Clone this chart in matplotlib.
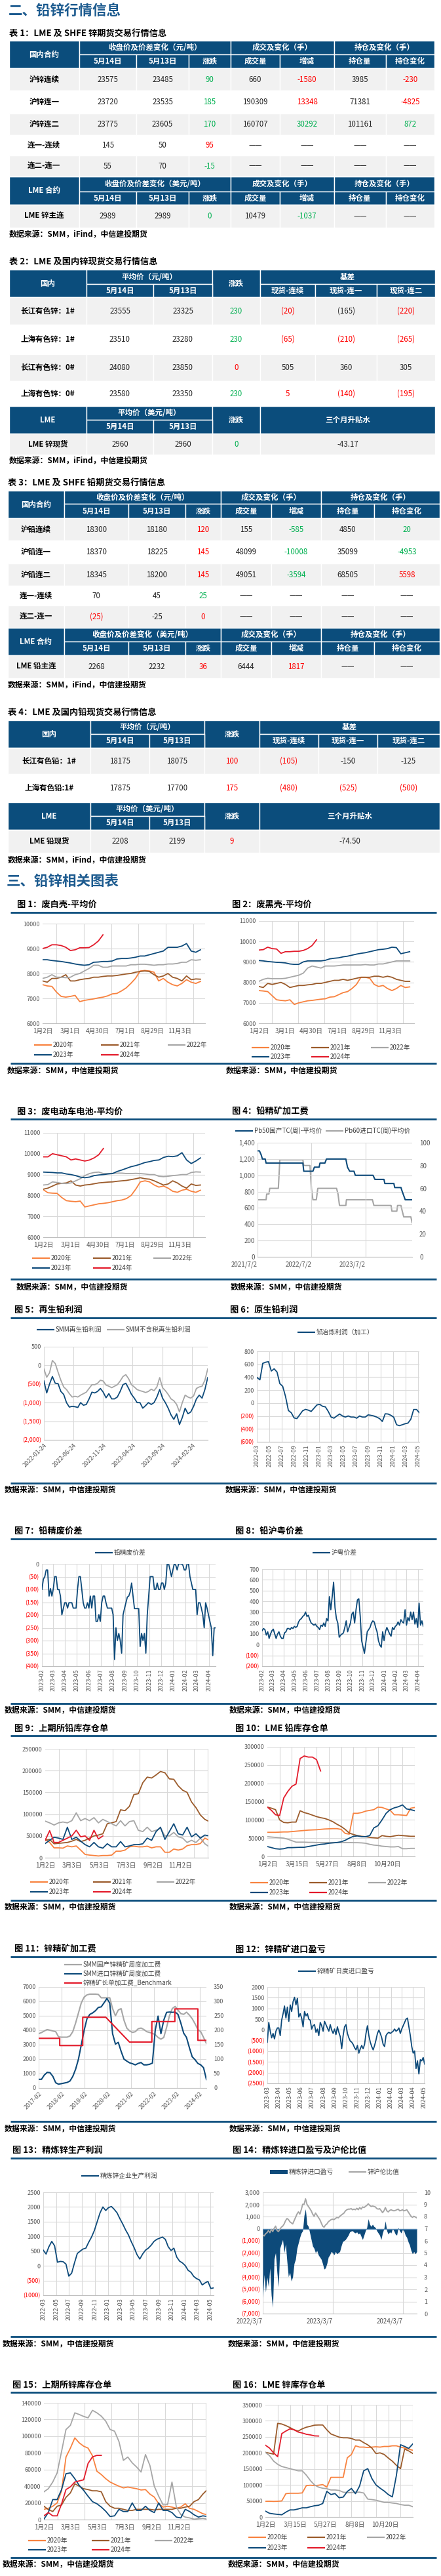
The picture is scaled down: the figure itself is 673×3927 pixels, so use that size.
import numpy as np
import pandas as pd
import matplotlib
matplotlib.use('Agg')
from matplotlib import pyplot as plt
from matplotlib.patches import Rectangle

plt.rcParams['font.family'] = ['Noto Sans CJK SC', 'DejaVu Sans']
plt.rcParams['axes.unicode_minus'] = False

W, H = 673, 3927

NAVY = '#0B4D7C'
BLUE = '#0D4A7A'
ORANGE = '#F8823F'
BROWN = '#9B5B2B'
GREY = '#A6A6A6'
RED = '#E31B2B'
TXT_G = '#00B050'
TXT_R = '#FF0000'
ROW_GREY = '#F1F1F1'
GRID = '#D9D9D9'
TICK = '#595959'
HEAD_BLUE = '#1D5B8F'
SEASON = [ORANGE, BROWN, GREY, BLUE, RED]
YEARS = ['2020年', '2021年', '2022年', '2023年', '2024年']

# ---------------- tables ----------------
fut_sub = ['5月14日', '5月13日', '涨跌', '成交量', '增减', '持仓量', '持仓变化']

t1_labels = ['沪锌连续', '沪锌连一', '沪锌连二', '连一-连续', '连二-连一']
t1_vals = [['23575', '23485', '90', '660', '-1580', '3985', '-230'],
           ['23720', '23535', '185', '190309', '13348', '71381', '-4825'],
           ['23775', '23605', '170', '160707', '30292', '101161', '872'],
           ['145', '50', '95', '——', '——', '——', '——'],
           ['55', '70', '-15', '——', '——', '——', '——']]
t1_tone = ['kkgkrkr', 'kkgkrkr', 'kkgkgkg', 'kkrkkkk', 'kkgkkkk']
t1_lme = ['2989', '2989', '0', '10479', '-1037', '——', '——']
t1_lme_tone = 'kkgkgkk'

t2_labels = ['长江有色锌：1#', '上海有色锌：1#', '长江有色锌：0#', '上海有色锌：0#']
t2_vals = [['23555', '23325', '230', '(20)', '(165)', '(220)'],
           ['23510', '23280', '230', '(65)', '(210)', '(265)'],
           ['24080', '23850', '0', '505', '360', '305'],
           ['23580', '23350', '230', '5', '(140)', '(195)']]
t2_tone = ['kkgrkr', 'kkgrrr', 'kkrkkk', 'kkgrrr']
t2_lme = ['2960', '2960', '0', '-43.17']
t2_lme_tone = 'kkgk'

t3_labels = ['沪铅连续', '沪铅连一', '沪铅连二', '连一-连续', '连二-连一']
t3_vals = [['18300', '18180', '120', '155', '-585', '4850', '20'],
           ['18370', '18225', '145', '48099', '-10008', '35099', '-4953'],
           ['18345', '18200', '145', '49051', '-3594', '68505', '5598'],
           ['70', '45', '25', '——', '——', '——', '——'],
           ['(25)', '-25', '0', '——', '——', '——', '——']]
t3_tone = ['kkrkgkg', 'kkrkgkg', 'kkrkgkr', 'kkgkkkk', 'rkrkkkk']
t3_lme = ['2268', '2232', '36', '6444', '1817', '——', '——']
t3_lme_tone = 'kkrkrkk'

t4_labels = ['长江有色铅：1#', '上海有色铅:1#']
t4_vals = [['18175', '18075', '100', '(105)', '-150', '-125'],
           ['17875', '17700', '175', '(480)', '(525)', '(500)']]
t4_tone = ['kkrrkk', 'kkrrrr']
t4_lme = ['2208', '2199', '9', '-74.50']
t4_lme_tone = 'kkrk'

# ---------------- seasonal charts (every 10 days from 1月2日) ----------------
f1_2020 = [7550, 7500, 7480, 7250, 7080, 7050, 7080, 7120, 6870, 6920, 6950, 6980, 7020, 7050, 7100, 7180, 7200, 7300,
           7420, 7600, 7800, 8100, 8120, 8100, 8050, 7700, 7800, 7650, 7550, 7500, 7600, 7750, 7650, 7600, 7680]
f1_2021 = [7700, 7650, 7800, 7800, 7850, 7950, 7700, 7700, 7750, 7780, 7800, 7850, 7850, 7880, 7900, 7900, 7920, 7950,
           7980, 8000, 8050, 8080, 8100, 8080, 7950, 7850, 7900, 8000, 7850, 7800, 7700, 7900, 7750, 7780, 7770]
f1_2022 = [7800, 7850, 7950, 7850, 7850, 7830, 7850, 7950, 8000, 8100, 8200, 8330, 8330, 8250, 8250, 8300, 8300, 8300,
           8300, 8350, 8350, 8370, 8370, 8350, 8330, 8350, 8350, 8380, 8380, 8400, 8450, 8450, 8550, 8530, 8550]
f1_2023 = [8550, 8550, 8520, 8500, 8480, 8450, 8420, 8380, 8350, 8330, 8350, 8450, 8460, 8480, 8480, 8500, 8580, 8600,
           8600, 8620, 8650, 8700, 8700, 8750, 8800, 8850, 8900, 9050, 9050, 9050, 9100, 9200, 8900, 8850, 8950]
f1_2024 = [9000, 9050, 9150, 9150, 9120, 9050, 8920, 8950, 9030, 9030, 9040, 9150, 9300, 9550]

f2_2020 = [7600, 7580, 7550, 7350, 7150, 7120, 7100, 7150, 6920, 7000, 7050, 7100, 7120, 7150, 7180, 7200, 7280, 7300,
           7400, 7500, 7550, 7700, 7900, 8250, 8250, 8200, 7900, 7800, 7850, 7700, 7600, 7700, 7850, 7750, 7780]
f2_2021 = [7800, 7750, 7950, 7900, 7950, 8000, 7900, 7750, 7800, 7850, 7850, 7880, 7900, 7950, 7950, 8000, 8050, 8100,
           8100, 8150, 8100, 8150, 8200, 8250, 8250, 8250, 8300, 8300, 8250, 8300, 8250, 8150, 8100, 8050, 8050]
f2_2022 = [8050, 8150, 8200, 8180, 8180, 8180, 8200, 8250, 8300, 8350, 8450, 8700, 8800, 8750, 8700, 8800, 8800, 8800,
           8820, 8850, 8850, 8850, 8850, 8850, 8870, 8850, 8850, 8900, 8900, 8950, 9000, 9050, 9050, 9050, 9050]
f2_2023 = [9070, 9050, 9020, 9000, 8980, 8970, 8950, 8900, 8880, 8880, 9000, 9050, 9050, 9050, 9050, 9080, 9150, 9180,
           9200, 9250, 9280, 9330, 9380, 9420, 9450, 9500, 9550, 9600, 9620, 9650, 9720, 9700, 9400, 9450, 9500]
f2_2024 = [9580, 9600, 9720, 9650, 9630, 9420, 9500, 9500, 9520, 9520, 9560, 9650, 9800, 10080]

f3_2020 = [8280, 8130, 8110, 8100, 7900, 7750, 7720, 7700, 7730, 7450, 7500, 7550, 7600, 7620, 7650, 7700, 7750, 7780,
           7850, 8000, 8300, 8650, 8700, 8650, 8500, 8400, 8450, 8350, 8200, 8150, 8250, 8300, 8200, 8150, 8250]
f3_2021 = [8300, 8350, 8450, 8550, 8580, 8600, 8700, 8500, 8450, 8500, 8520, 8560, 8600, 8620, 8640, 8650, 8680, 8700,
           8720, 8760, 8800, 8850, 8800, 8780, 8700, 8600, 8500, 8550, 8700, 8600, 8450, 8350, 8550, 8480, 8500]
f3_2022 = [8500, 8520, 8650, 8620, 8580, 8570, 8600, 8700, 8800, 8950, 9050, 9100, 9120, 9050, 9050, 9060, 9070, 9070,
           9050, 9050, 9060, 9050, 9030, 9000, 9000, 8920, 8900, 8920, 8950, 8970, 9000, 9000, 9100, 9130, 9120]
f3_2023 = [9120, 9110, 9100, 9080, 9080, 9030, 9000, 8950, 8880, 8850, 8880, 8950, 8980, 9000, 9030, 9050, 9150, 9220,
           9300, 9380, 9430, 9500, 9580, 9620, 9680, 9700, 9820, 9880, 9860, 9900, 10050, 9700, 9530, 9650, 9800]
f3_2024 = [9850, 9850, 10000, 9950, 9900, 9850, 9700, 9750, 9700, 9650, 9700, 9800, 9950, 10250]

f9_2020 = [43000, 35000, 22600, 22600, 22000, 27000, 25000, 27000, 17500, 7500, 6000, 5000, 4000, 5000, 5000, 6000,
           15000, 15000, 17500, 25000, 26500, 25000, 25000, 26500, 22600, 25000, 25000, 12500, 12500, 20000, 17500,
           20000, 27600, 30000, 30000, 32600, 45000, 40000]
f9_2021 = [40000, 42000, 32000, 33000, 34000, 35000, 38000, 42000, 37000, 40000, 45000, 50000, 52000, 55000, 78000,
           80000, 83000, 110000, 108000, 118000, 145000, 147000, 172000, 185000, 183000, 190000, 198000, 195000,
           181000, 180000, 165000, 155000, 150000, 128000, 115000, 98000, 88000, 83000]
f9_2022 = [84000, 80000, 75000, 80000, 82000, 80000, 85000, 103000, 85000, 90000, 85000, 92000, 80000, 88000, 83000,
           78000, 73000, 85000, 73000, 83000, 85000, 63000, 60000, 70000, 60000, 63000, 68000, 50000, 50000, 58000,
           48000, 45000, 35000, 40000, 35000, 45000, 32000, 25000]
f9_2023 = [32600, 40000, 47000, 45000, 42000, 70000, 42000, 47000, 38000, 30000, 25000, 35000, 25000, 22000, 32000,
           25000, 25000, 37000, 25000, 27000, 30000, 30000, 32000, 45000, 40000, 60000, 70000, 42000, 60000, 78000,
           55000, 52000, 70000, 48000, 55000, 45000, 52000, 50000]
f9_2024 = [40000, 62000, 35000, 35000, 40000, 45000, 50000, 63000, 48000, 50000, 40000, 63000, 43000, 50000]

f10_2020 = [66000, 66000, 66000, 66500, 67000, 67000, 68000, 69000, 70000, 71000, 72000, 72500, 73000, 74000, 75000,
            75500, 76000, 76000, 74000, 63000, 61000, 118000, 118000, 120000, 124000, 126000, 128000, 135000, 134000,
            130000, 126000, 114000, 114000, 113000, 112000, 132000, 134000]
f10_2021 = [135000, 132000, 128000, 100000, 93000, 92000, 94000, 94000, 125000, 120000, 117000, 113000, 109000,
            106000, 104000, 100000, 95000, 88000, 82000, 74000, 64000, 60000, 57000, 55000, 54000, 52000, 51000,
            50000, 57000, 55000, 54000, 56000, 58000, 57000, 56000, 55000, 55000]
f10_2022 = [54000, 53000, 52000, 51000, 50000, 47000, 43000, 39000, 39000, 39000, 38500, 38500, 38000, 38000, 38000,
            38000, 38000, 38000, 38000, 38000, 38000, 37500, 37500, 37000, 36000, 33000, 31000, 30000, 28000, 27000,
            26000, 26000, 27000, 21000, 21000, 22000, 22000]
f10_2023 = [27000, 24000, 21000, 20000, 21000, 24000, 24000, 24500, 25000, 25000, 27000, 29000, 31000, 33000, 34000,
            36000, 37000, 38000, 40000, 44000, 50000, 55000, 56000, 54000, 54000, 57000, 78000, 84000, 100000, 118000,
            128000, 133000, 136000, 141000, 130000, 128000, 125000]
f10_2024 = [135000, 126000, 114000, 112000, 160000, 178000, 192000, 198000, 268000, 275000, 272000, 272000, 265000,
            234000]

f15_2020 = [12300, 13500, 16000, 20000, 34600, 75000, 85700, 98000, 92000, 88000, 85700, 76500, 58000, 54000, 49000,
            45000, 42400, 40000, 38000, 39000, 38000, 37000, 35500, 36000, 30600, 27000, 18900, 15000, 16000, 15000,
            13500, 15000, 19000, 13500, 12300, 9700, 7000, 5800]
f15_2021 = [16000, 12000, 9700, 16000, 17500, 26700, 32000, 43000, 40000, 37000, 36000, 34500, 34500, 33300, 21500,
            16000, 13600, 13600, 12300, 11000, 11000, 12300, 12300, 12300, 12300, 11500, 12300, 12300, 12300, 12300,
            13600, 13600, 15000, 16000, 21500, 24000, 30600, 35900]
f15_2022 = [33300, 37000, 45000, 56000, 81700, 108000, 113000, 128000, 126000, 123700, 122000, 131000, 128000, 124000,
            118000, 108000, 106000, 93500, 71000, 75000, 68000, 63000, 57000, 78000, 65000, 40000, 28000, 17600,
            18000, 45000, 15000, 6000, 3000, 2000, 500, 1000, 1500, 500]
f15_2023 = [500, 8400, 24000, 24000, 36000, 55000, 56000, 49000, 41000, 35000, 28000, 21500, 19000, 15000, 10000,
            3700, 4500, 12300, 9700, 9700, 20000, 11000, 11000, 16000, 11000, 8400, 20000, 11000, 11000, 8400, 3000,
            2000, 12300, 9700, 5800, 3000, 4500, 3700]
f15_2024 = [4500, 8400, 4500, 4500, 18900, 36000, 39300, 45000, 46400, 47700, 67300, 75200, 77000, 77000]

f16_2020 = [48900, 49000, 48500, 48900, 50000, 72700, 74000, 74000, 74000, 75000, 97800, 99000, 97800, 99000, 101000,
            93000, 123600, 123600, 123600, 123600, 184700, 194900, 222000, 218000, 218000, 216600, 218000, 219000,
            218000, 220000, 220000, 222000, 222000, 218000, 215000, 211800, 208000]
f16_2021 = [201600, 199000, 196000, 292000, 290000, 285000, 279000, 272000, 268000, 275000, 280000, 283000, 286500,
            287000, 287000, 272000, 259000, 254000, 249000, 247000, 247000, 245000, 240000, 240000, 232000, 225000,
            215000, 198000, 200000, 195000, 184000, 174000, 161000, 150700, 211800, 206000, 198000]
f16_2022 = [201600, 191500, 174500, 164300, 157500, 154100, 150700, 147300, 144000, 144000, 130400, 113400, 99800,
            93000, 89600, 88300, 84200, 84200, 82800, 77400, 76000, 76000, 77400, 77400, 74700, 55700, 54300, 52300,
            48900, 45500, 45500, 43500, 42100, 38700, 36700, 36700, 31900]
f16_2023 = [18300, 11500, 9500, 8100, 6800, 15000, 22000, 22000, 25000, 28500, 28500, 32000, 35000, 36600, 42000,
            80000, 70000, 73000, 60000, 62000, 79400, 89000, 72700, 96400, 144000, 150700, 120000, 100000, 90000,
            81000, 70000, 62500, 130400, 225400, 220000, 214000, 228000]
f16_2024 = [224000, 215000, 200000, 188000, 260000, 268000, 275000, 272000, 265000, 262000, 258000, 256000, 253000,
            252500]

# ---------------- time series charts ----------------
f4_blue_dates = ['2021-07-02', '2021-07-15', '2021-07-27', '2021-08-04', '2021-08-23', '2021-08-29', '2022-05-05',
                 '2022-05-11', '2022-07-12', '2022-07-22', '2022-08-23', '2022-08-29', '2022-10-01', '2022-10-12',
                 '2023-02-20', '2023-03-03', '2023-03-18', '2023-04-16', '2023-04-25', '2023-08-23', '2023-09-05',
                 '2023-11-05', '2023-11-11', '2024-01-11', '2024-01-17', '2024-02-28', '2024-03-08', '2024-03-18',
                 '2024-03-28', '2024-05-14']
f4_blue = [1300, 1300, 1250, 1200, 1200, 1150, 1150, 1050, 1050, 1100, 1100, 1150, 1150, 1200, 1200, 1100, 1050,
           1050, 1000, 1000, 950, 950, 900, 900, 850, 850, 800, 750, 700, 700]
f4_grey_dates = ['2021-07-02', '2021-08-29', '2021-09-02', '2021-09-17', '2021-09-23', '2021-11-20', '2021-11-30',
                 '2022-05-05', '2022-05-11', '2022-06-22', '2022-07-02', '2022-07-12', '2022-08-04', '2022-08-14',
                 '2022-12-19', '2022-12-29', '2023-01-08', '2023-02-20', '2023-02-24', '2023-08-19', '2023-08-29',
                 '2023-12-23', '2023-12-29', '2024-01-31', '2024-02-05', '2024-02-28', '2024-03-08', '2024-03-18',
                 '2024-05-05', '2024-05-14']
f4_grey = [50, 50, 55, 55, 60, 60, 85, 85, 80, 80, 60, 50, 50, 60, 60, 55, 45, 45, 50, 50, 45, 45, 40, 40, 45, 45,
           40, 35, 35, 30]

f5_smm = [-419, -741, -500, -300, -480, -490, -700, -780, -1000, -1120, -1100, -1110, -1130, -1000, -1070, -1050,
          -900, -720, -740, -700, -620, -720, -870, -760, -900, -900, -850, -700, -520, -480, -620, -780, -880,
          -1000, -1000, -1150, -1080, -1000, -1050, -1000, -850, -650, -880, -1000, -1150, -1330, -1450, -1300,
          -1590, -1400, -1150, -1300, -1250, -1100, -900, -800, -880, -650, -330]
f5_notax = [-97, -320, -200, 130, 50, -180, -400, -580, -650, -760, -850, -830, -850, -800, -760, -720, -620, -520,
            -520, -480, -400, -420, -530, -560, -600, -560, -520, -420, -300, -250, -360, -520, -580, -650, -680,
            -700, -730, -700, -640, -680, -580, -330, -600, -680, -780, -900, -950, -1050, -1250, -1000, -800, -850,
            -880, -820, -620, -580, -560, -400, -97]

f6_profit = [393, 359, 614, 631, 640, 495, 529, 480, 300, 258, 100, -115, -150, -230, -240, -180, -120, -98, -110,
             -130, -80, -30, -20, -50, -60, -130, -217, -234, -200, -170, -200, -217, -200, -217, -217, -234, -200,
             -217, -217, -183, -190, -200, -217, -240, -285, -166, -170, -190, -220, -336, -350, -336, -320, -310,
             -250, -100, -100, -150]

f7_spread = [-100, -60, -50, -24, -24, -126, -97, -126, -97, -50, -50, -100, -100, -126, -199, -175, -152, -152, -173,
             -152, -152, -152, -173, -173, -173, -100, -50, -50, -100, -152, -173, -173, -152, -173, -126, -173, -126,
             -126, -225, -225, -199, -225, -152, -126, -126, -152, -173, -173, -173, -173, -199, -374, -250, -300,
             -272, -300, -349, -199, -175, -152, -130, -126, -110, -75, -126, -175, -175, -175, -175, -323, -272,
             -300, -272, -349, -199, -126, -50, -50, -50, -100, -100, -75, -100, -100, -75, -75, -100, -75, 0, 0, -24,
             -50, -24, 0, -5, -24, 0, 0, 0, -5, -24, -24, 0, 0, -50, -75, -100, -100, -100, -199, -152, -152, -173,
             -199, -250, -152, -173, -199, -225, -250, -359, -250, -250]

f8_spread = [129, 149, 139, 88, 119, 57, 98, 129, 143, 98, 57, 98, 119, 78, 57, 57, 108, 119, 149, 149, 139, 159,
             149, 169, 159, 169, 210, 231, 241, 261, 272, 302, 261, 272, 231, 200, 190, 180, 190, 169, 159, 139, 180,
             169, 200, 169, 241, 220, 445, 323, 445, 578, 343, 241, 200, 68, 88, 98, 108, 159, 220, 119, 159, 200,
             282, 302, 200, 323, 414, 425, 261, 37, -24, -81, 17, 119, 139, 159, 200, 220, 210, 159, 119, 37, -4,
             -24, 119, 37, 119, 159, 129, 98, 78, 159, 139, 169, 180, 210, 180, 231, 210, 200, 323, 180, 251, 220,
             302, 231, 302, 190, 241, 159, 384, 180, 220, 169]

f11_domestic = [3760, 3840, 3950, 4050, 4000, 3950, 3900, 3540, 3520, 3520, 3520, 3600, 3900, 4500, 5200, 5900, 6300,
                6450, 6500, 6500, 6500, 6480, 6250, 6250, 6250, 6250, 5500, 5000, 5400, 5500, 4700, 4150, 3950, 3850,
                3900, 4100, 4150, 4050, 3900, 3850, 3780, 3700, 3500, 3380, 3500, 4200, 5000, 5500, 5650, 5400, 5150,
                5100, 5250, 5050, 4800, 4450, 4050, 3900, 3500, 3080]
f11_import = [30, 30, 45, 54, 53, 40, 18, 13, 15, 17, 19, 24, 40, 65, 100, 150, 200, 240, 255, 260, 268, 279, 281,
              295, 310, 294, 188, 152, 158, 127, 100, 93, 87, 84, 80, 85, 88, 80, 80, 82, 86, 200, 249, 188, 235, 262,
              263, 262, 263, 255, 225, 190, 175, 140, 108, 98, 85, 80, 70, 29]
f11_bm_dates = ['2017-02-01', '2018-01-01', '2018-01-01', '2019-01-01', '2019-01-01', '2020-01-01', '2021-01-12',
                '2022-01-01', '2022-01-01', '2023-01-01', '2023-01-01', '2024-01-01', '2024-01-01', '2024-05-15']
f11_bm = [172, 172, 147, 147, 245, 245, 159, 159, 230, 230, 274, 274, 165, 165]

f12_pl = [-578, 343, -66, -373, -169, -425, -66, 87, 87, -271, 445, 752, 1110, 547, 1059, 394, 1161, 854, 1315, 1519,
          1161, 1468, 598, 752, 547, 138, 854, 650, 752, 496, 445, 36, 189, 240, -118, 36, -271, 343, 189, -66, 394,
          240, 87, -66, 240, -15, -169, 36, -220, 138, -118, -322, -885, -271, 138, 240, -169, -373, -527, -578,
          -680, -834, -936, -731, -1089, -885, -731, -885, -680, -169, 189, -271, -578, -783, -936, -731, -475,
          -169, -15, -169, -373, -680, -783, -271, -169, -118, -169, -118, -66, 36, -66, -15, 87, -169, 36, 189,
          343, 496, 547, 138, -271, -783, -1089, -988, -1806, -1448, -2061, -1396, -1448, -1294, -1601]

f13_profit = [531, 400, 650, 830, 680, 122, 150, 140, 60, -350, -250, 100, 420, 500, 570, 600, 800, 977, 1200, 1500,
              1800, 2000, 1880, 1980, 2017, 1920, 1800, 1600, 1420, 1220, 1050, 820, 620, 382, 230, 400, 531, 600,
              700, 830, 900, 940, 977, 900, 650, 520, 600, 300, 160, 100, 10, -150, -220, -360, -435, -480, -650,
              -580, -530, -770, -750]

f14_import = [-5676, -3784, -5225, -4000, -4800, -3243, -5500, -6486, -2500, -1982, -3604, -4800, -1622, -1261, -901,
              -1982, -1261, -2700, -3964, -3604, -4324, -3964, -2883, -2522, -1622, -1171, -721, -360, -180, 1081,
              1622, 360, 180, -360, -901, -1441, -1622, -1982, -1802, -2162, -2342, -2522, -2883, -3334, -3244,
              -2883, -2342, -2162, -1892, -1982, -2162, -1892, -2072, -1982, -1892, -1441, -1081, -991, -901, -721,
              -541, -270, -200, -180, -300, -360, -270, -450, -360, -631, -901, -541, -180, 90, 811, 360, 180, 360,
              180, 90, -180, -360, -541, -901, -360, 0, 631, -180, -450, -270, -360, 0, -180, -450, -541, 90, -180,
              -360, -90, -180, -541, -721, -1081, -1351, -1802, -2072, -1892, -2072, -1892]
f14_ratio = [6.49, 6.40, 6.58, 6.67, 6.85, 6.67, 6.94, 6.76, 7.03, 7.21, 6.85, 6.76, 6.94, 7.12, 7.21, 7.39, 7.66,
             7.84, 7.75, 7.57, 7.48, 7.39, 7.66, 7.93, 8.20, 8.38, 8.20, 8.56, 9.01, 9.01, 9.46, 9.01, 8.83, 8.65,
             8.47, 8.20, 8.02, 8.29, 8.11, 7.93, 7.75, 7.48, 7.21, 7.12, 7.30, 7.39, 7.57, 7.66, 7.75, 7.78, 7.75,
             7.84, 7.93, 7.89, 8.02, 8.11, 8.20, 8.29, 8.47, 8.56, 8.61, 8.61, 8.65, 8.56, 8.61, 8.56, 8.68, 8.56,
             8.74, 8.61, 8.79, 8.74, 8.83, 8.92, 9.05, 8.92, 8.83, 8.86, 8.83, 8.79, 8.65, 8.61, 8.65, 8.50, 8.32,
             8.47, 8.74, 8.47, 8.38, 8.50, 8.56, 8.50, 8.47, 8.50, 8.56, 8.61, 8.47, 8.50, 8.56, 8.47, 8.50, 8.56,
             8.38, 8.20, 8.02, 7.93, 8.02, 7.96, 7.89]

# ---------------- figure ----------------
fig = plt.figure(figsize=(W / 100, H / 100), dpi=100)
bg = fig.add_axes([0, 0, 1, 1])
bg.set_xlim(0, W)
bg.set_ylim(H, 0)
bg.axis('off')


def px_axes(x0, y0, x1, y1):
    return fig.add_axes([x0 / W, 1 - y1 / H, (x1 - x0) / W, (y1 - y0) / H])


TONES = {'k': '#262626', 'g': TXT_G, 'r': TXT_R}


def cell(x0, x1, y0, y1, text='', fc='white', color='black', bold=False, size=8.3):
    bg.add_patch(Rectangle((x0, y0), x1 - x0, y1 - y0, facecolor=fc, edgecolor='white', lw=1.0))
    if text:
        bg.text((x0 + x1) / 2, (y0 + y1) / 2, text, ha='center', va='center', color=color,
                fontsize=size, fontweight='bold' if bold else 'normal')


def head(x0, x1, y0, y1, text):
    cell(x0, x1, y0, y1, text, NAVY, 'white', True)


def body_row(C, y0, y1, label, vals, tones, fc):
    cell(C[0], C[1], y0, y1, label, fc, 'black', True)
    for j, (v, t) in enumerate(zip(vals, tones)):
        cell(C[j + 1], C[j + 2], y0, y1, v, fc, TONES[t])


def futures_table(R, C, labels, vals, tones, lme_label, lme_vals, lme_tone):
    for k, (first, unit) in enumerate([('国内合约', '（元/吨）'), ('LME 合约', '（美元/吨）')]):
        r0, r1, r2 = R[k * 7], R[k * 7 + 1], R[k * 7 + 2]
        head(C[0], C[1], r0, r2, first)
        head(C[1], C[4], r0, r1, '收盘价及价差变化' + unit)
        head(C[4], C[6], r0, r1, '成交及变化（手）')
        head(C[6], C[8], r0, r1, '持仓及变化（手）')
        for j, t in enumerate(fut_sub):
            head(C[j + 1], C[j + 2], r1, r2, t)
    for i in range(len(labels)):
        body_row(C, R[2 + i], R[3 + i], labels[i], vals[i], tones[i], ROW_GREY if i % 2 == 0 else 'white')
    body_row(C, R[9], R[10], lme_label, lme_vals, lme_tone, ROW_GREY)


def spot_table(R, C, labels, vals, tones, lme_label, lme_vals, lme_tone):
    head(C[0], C[1], R[0], R[2], '国内')
    head(C[1], C[3], R[0], R[1], '平均价（元/吨）')
    head(C[3], C[4], R[0], R[2], '涨跌')
    head(C[4], C[7], R[0], R[1], '基差')
    for j, t in [(0, '5月14日'), (1, '5月13日'), (3, '现货-连续'), (4, '现货-连一'), (5, '现货-连二')]:
        head(C[j + 1], C[j + 2], R[1], R[2], t)
    n = len(labels)
    for i in range(n):
        body_row(C, R[2 + i], R[3 + i], labels[i], vals[i], tones[i], ROW_GREY if i % 2 == 0 else 'white')
    h = 2 + n
    head(C[0], C[1], R[h], R[h + 2], 'LME')
    head(C[1], C[3], R[h], R[h + 1], '平均价（美元/吨）')
    head(C[3], C[4], R[h], R[h + 2], '涨跌')
    head(C[4], C[7], R[h], R[h + 2], '三个月升贴水')
    head(C[1], C[2], R[h + 1], R[h + 2], '5月14日')
    head(C[2], C[3], R[h + 1], R[h + 2], '5月13日')
    y0, y1 = R[h + 2], R[h + 3]
    cell(C[0], C[1], y0, y1, lme_label, ROW_GREY, 'black', True)
    for j in range(3):
        cell(C[j + 1], C[j + 2], y0, y1, lme_vals[j], ROW_GREY, TONES[lme_tone[j]])
    cell(C[4], C[7], y0, y1, lme_vals[3], ROW_GREY, TONES[lme_tone[3]])


def big_title(x, y, text):
    bg.text(x, y, text, fontsize=15.5, fontweight='bold', color=HEAD_BLUE, va='center', ha='left')


def small_title(x, y, text):
    bg.text(x, y, text, fontsize=9.5, fontweight='bold', color='black', va='center', ha='left')


def source(x, y, text='数据来源：SMM，中信建投期货'):
    bg.text(x, y, text, fontsize=8.6, fontweight='bold', color='black', va='center', ha='left')


def rule(y):
    bg.plot([16, 666], [y, y], color=NAVY, lw=2.0, solid_capstyle='butt')


def leg_line(x, y, color, label, lw=1.6):
    bg.plot([x, x + 27], [y, y], color=color, lw=lw, solid_capstyle='butt')
    bg.text(x + 29, y, label, fontsize=7, va='center', ha='left', color='#404040')


def season_legend(xs, y1, y2):
    for i in range(5):
        leg_line(xs[i % 3], y1 if i < 3 else y2, SEASON[i], YEARS[i])


def money(v, comma=False):
    s = f'{abs(v):,}' if comma else f'{abs(v)}'
    return f'({s})' if v < 0 else s


def yticks_fmt(ax, ticks, comma=False):
    ax.set_yticks(ticks)
    ax.set_yticklabels([money(t, comma) for t in ticks])
    for t, lab in zip(ticks, ax.get_yticklabels()):
        if t < 0:
            lab.set_color(TXT_R)


def base_style(ax, xgrid=True):
    for s in ('top', 'right', 'left'):
        ax.spines[s].set_visible(False)
    ax.spines['bottom'].set_color('#BFBFBF')
    ax.tick_params(which='both', length=0, labelsize=6.5, colors=TICK, pad=3)
    ax.grid(True, axis='y', color=GRID, lw=0.8)
    if xgrid:
        ax.grid(True, axis='x', color=GRID, lw=0.8)
    ax.set_axisbelow(True)


def seasonal(box, series, ylim, ystep, xmax, grid_step, label_days, labels):
    ax = px_axes(*box)
    for vals, col in zip(series, SEASON):
        ax.plot(np.arange(len(vals)) * 10, vals, color=col, lw=1.3)
    base_style(ax, xgrid=False)
    ax.set_xlim(0, xmax)
    ax.set_ylim(*ylim)
    yticks_fmt(ax, list(range(ylim[0], ylim[1] + 1, ystep)))
    ax.set_xticks(np.arange(0, xmax + 1, grid_step), minor=True)
    ax.set_xticks(label_days)
    ax.set_xticklabels(labels)
    ax.xaxis.grid(True, which='minor', color=GRID, lw=0.8)
    ax.tick_params(axis='x', labelsize=7, pad=5)
    return ax


def date_axis(box, start, end):
    ax = px_axes(*box)
    ax.set_xlim(pd.Timestamp(start), pd.Timestamp(end))
    return ax


def set_date_ticks(ax, ticks, fmt, rotation=90):
    ax.set_xticks(ticks)
    ax.set_xticklabels([t.strftime(fmt) for t in ticks])
    if rotation == 90:
        ax.tick_params(axis='x', labelrotation=90)
    else:
        for lab in ax.get_xticklabels():
            lab.set_rotation(rotation)
            lab.set_ha('right')
            lab.set_rotation_mode('anchor')


# ---------- section 2: tables ----------
big_title(13, 17, '二、铅锌行情信息')

small_title(14, 52, '表 1：LME 及 SHFE 锌期货交易行情信息')
futures_table([62, 83, 104, 138, 173, 206, 237, 269, 292, 312, 347],
              [14, 121, 208, 288, 352, 427, 510, 589, 663],
              t1_labels, t1_vals, t1_tone, 'LME 锌主连', t1_lme, t1_lme_tone)
source(14, 358, '数据来源：SMM，iFind，中信建投期货')

small_title(14, 400, '表 2：LME 及国内锌现货交易行情信息')
spot_table([411, 433, 453, 495, 540, 581, 619, 640, 661, 693],
           [14, 132, 234, 324, 397, 481, 575, 664],
           t2_labels, t2_vals, t2_tone, 'LME 锌现货', t2_lme, t2_lme_tone)
source(14, 703, '数据来源：SMM，iFind，中信建投期货')

small_title(12, 737, '表 3：LME 及 SHFE 铅期货交易行情信息')
futures_table([748, 768, 790, 824, 859, 893, 923, 957, 978, 999, 1034],
              [12, 98, 196, 283, 337, 414, 490, 571, 671],
              t3_labels, t3_vals, t3_tone, 'LME 铅主连', t3_lme, t3_lme_tone)
source(12, 1045, '数据来源：SMM，iFind，中信建投期货')

small_title(12, 1087, '表 4：LME 及国内铅现货交易行情信息')
spot_table([1098, 1119, 1140, 1180, 1223, 1244, 1265, 1300],
           [12, 138, 228, 312, 396, 486, 576, 671],
           t4_labels, t4_vals, t4_tone, 'LME 铅现货', t4_lme, t4_lme_tone)
source(12, 1312, '数据来源：SMM，iFind，中信建投期货')

big_title(10, 1343, '三、铅锌相关图表')

# ---------- section 3: charts ----------
LBL_A = ['1月2日', '3月1日', '4月30日', '7月1日', '8月29日', '11月3日']
LBL_B = ['1月2日', '3月3日', '5月3日', '7月3日', '9月2日', '11月2日']
LBL_C = ['1月2日', '3月15日', '5月27日', '8月8日', '10月20日']

# row 1
small_title(26, 1379, '图 1：废白壳-平均价')
small_title(354, 1379, '图 2：废黑壳-平均价')
rule(1391)
seasonal((65, 1408, 313, 1560), [f1_2020, f1_2021, f1_2022, f1_2023, f1_2024], (6000, 10000), 1000,
         350, 29.5, [0, 59, 118, 177, 236, 295], LBL_A)
season_legend([52, 154, 256], 1593, 1608)
seasonal((395, 1404, 632, 1560), [f2_2020, f2_2021, f2_2022, f2_2023, f2_2024], (6000, 11000), 1000,
         350, 29.5, [0, 59, 118, 177, 236, 295], LBL_A)
season_legend([384, 475, 566], 1597, 1611)
rule(1621)
source(11, 1633)
source(345, 1633)

# row 2
small_title(26, 1695, '图 3：废电动车电池-平均价')
small_title(354, 1695, '图 4：铅精矿加工费')
rule(1706)
seasonal((66, 1727, 313, 1886), [f3_2020, f3_2021, f3_2022, f3_2023, f3_2024], (6000, 11000), 1000,
         350, 29.5, [0, 59, 118, 177, 236, 295], LBL_A)
season_legend([49, 142, 234], 1918, 1933)

ax = date_axis((393, 1742, 629, 1916), '2021-07-02', '2024-05-14')
ax.plot(pd.to_datetime(f4_blue_dates), f4_blue, color=BLUE, lw=1.5, zorder=3)
base_style(ax)
ax.set_ylim(0, 1400)
yticks_fmt(ax, list(range(0, 1401, 200)), comma=True)
set_date_ticks(ax, pd.to_datetime(['2021-07-02', '2022-07-02', '2023-07-02']), '%Y/%-m/%-d', rotation=0)
ax.tick_params(axis='x', labelsize=7, pad=5)
ax.tick_params(axis='y', labelsize=7)
ax2 = ax.twinx()
ax2.plot(pd.to_datetime(f4_grey_dates), f4_grey, color=GREY, lw=1.5)
for s in ax2.spines.values():
    s.set_visible(False)
ax2.set_ylim(0, 100)
ax2.set_yticks(range(0, 101, 20))
ax2.tick_params(length=0, labelsize=7, colors=TICK, pad=8)
ax.set_zorder(ax2.get_zorder() + 1)
ax.patch.set_visible(False)
leg_line(359, 1724, BLUE, 'Pb50国产TC(周)-平均价')
leg_line(497, 1724, GREY, 'Pb60进口TC(周)平均价')
rule(1950)
source(25, 1963)
source(352, 1963)

# row 3
small_title(22, 1997, '图 5：再生铅利润')
small_title(351, 1997, '图 6：原生铅利润')
rule(2009)
ax = date_axis((67, 2053, 317, 2195), '2022-01-24', '2024-05-13')
d = pd.date_range('2022-01-24', '2024-05-13', periods=len(f5_smm))
ax.plot(d, f5_notax, color=GREY, lw=1.3)
ax.plot(d, f5_smm, color=BLUE, lw=1.3)
base_style(ax)
ax.set_ylim(-2000, 500)
yticks_fmt(ax, list(range(-2000, 501, 500)), comma=True)
set_date_ticks(ax, pd.date_range('2022-01-24', periods=6, freq=pd.DateOffset(months=5)), '%Y-%m-%d', rotation=45)
leg_line(56, 2027, BLUE, 'SMM再生铅利润')
leg_line(163, 2027, GREY, 'SMM不含税再生铅利润')

ax = date_axis((392, 2060, 640, 2198), '2022-03-01', '2024-05-08')
ax.plot(pd.date_range('2022-03-02', '2024-05-08', periods=len(f6_profit)), f6_profit, color=BLUE, lw=1.3)
base_style(ax)
ax.set_ylim(-600, 800)
yticks_fmt(ax, list(range(-600, 801, 200)))
set_date_ticks(ax, pd.date_range('2022-03-01', '2024-05-01', freq='2MS'), '%Y-%m')
leg_line(454, 2031, BLUE, '铅冶炼利润（加工）')
rule(2261)
source(7, 2272)
source(344, 2272)

# row 4
small_title(22, 2334, '图 7：铅精废价差')
small_title(359, 2334, '图 8：铅沪粤价差')
rule(2346)
ax = date_axis((64, 2384, 329, 2540), '2023-02-01', '2024-04-18')
ax.plot(pd.date_range('2023-02-01', '2024-04-18', periods=len(f7_spread)), f7_spread, color=BLUE, lw=1.3)
base_style(ax)
ax.set_ylim(-400, 0)
yticks_fmt(ax, list(range(-400, 1, 50)))
set_date_ticks(ax, pd.date_range('2023-02-01', '2024-04-01', freq='MS'), '%Y-%m')
leg_line(145, 2367, BLUE, '铅精废价差')

ax = date_axis((400, 2392, 646, 2540), '2023-02-01', '2024-04-16')
ax.plot(pd.date_range('2023-02-01', '2024-04-16', periods=len(f8_spread)), f8_spread, color=BLUE, lw=1.3)
base_style(ax)
ax.set_ylim(-200, 700)
yticks_fmt(ax, list(range(-200, 701, 100)))
set_date_ticks(ax, pd.date_range('2023-02-01', '2024-04-01', freq='MS'), '%Y-%m')
leg_line(477, 2367, BLUE, '沪粤价差')
rule(2597)
source(7, 2608)
source(350, 2608)

# row 5
small_title(22, 2635, '图 9：上期所铅库存仓单')
small_title(359, 2635, '图 10：LME 铅库存仓单')
rule(2646)
seasonal((69, 2666, 318, 2832), [f9_2020, f9_2021, f9_2022, f9_2023, f9_2024], (0, 250000), 50000,
         368, 30.5, [0, 61, 122, 183, 244, 305], LBL_B)
season_legend([46, 142, 239], 2869, 2884)
seasonal((408, 2663, 633, 2830), [f10_2020, f10_2021, f10_2022, f10_2023, f10_2024], (0, 300000), 50000,
         360, 30, [0, 73, 146, 219, 292], LBL_C)
season_legend([382, 472, 562], 2870, 2885)
rule(2897)
source(7, 2908)
source(350, 2908)

# row 6
small_title(22, 2972, '图 11：锌精矿加工费')
small_title(359, 2972, '图 12：锌精矿进口盈亏')
rule(2983)
ax = date_axis((59, 3029, 315, 3183), '2017-02-01', '2024-05-15')
ax.plot(pd.date_range('2017-02-01', '2024-05-15', periods=len(f11_domestic)), f11_domestic, color=GREY, lw=1.5)
base_style(ax)
ax.set_ylim(0, 7000)
yticks_fmt(ax, list(range(0, 7001, 1000)))
set_date_ticks(ax, pd.date_range('2017-02-01', '2024-02-01', freq='12MS'), '%Y-%m', rotation=45)
ax2 = ax.twinx()
ax2.plot(pd.date_range('2017-02-01', '2024-05-15', periods=len(f11_import)), f11_import, color=BLUE, lw=1.5)
ax2.plot(pd.to_datetime(f11_bm_dates), f11_bm, color=RED, lw=1.5)
for s in ax2.spines.values():
    s.set_visible(False)
ax2.set_ylim(0, 350)
ax2.set_yticks(range(0, 351, 50))
ax2.tick_params(length=0, labelsize=6.5, colors=TICK, pad=8)
leg_line(98, 2995, GREY, 'SMM国产锌精矿周度加工费')
leg_line(98, 3009, BLUE, 'SMM进口锌精矿周度加工费')
leg_line(98, 3023, RED, '锌精矿长单加工费_Benchmark')

ax = date_axis((408, 3029, 648, 3176), '2023-03-01', '2024-05-03')
ax.plot(pd.date_range('2023-03-01', '2024-05-03', periods=len(f12_pl)), f12_pl, color=BLUE, lw=1.3)
base_style(ax)
ax.set_ylim(-2500, 2000)
yticks_fmt(ax, list(range(-2500, 2001, 500)))
set_date_ticks(ax, pd.date_range('2023-03-01', '2024-05-01', freq='MS'), '%Y-%m')
leg_line(455, 3005, BLUE, '锌精矿日度进口盈亏')
rule(3234)
source(7, 3246)
source(350, 3246)

# row 7
small_title(19, 3278, '图 13：精炼锌生产利润')
small_title(355, 3278, '图 14：精炼锌进口盈亏及沪伦比值')
rule(3290)
ax = date_axis((66, 3342, 326, 3499), '2022-03-01', '2024-05-16')
ax.plot(pd.date_range('2022-03-01', '2024-05-16', periods=len(f13_profit)), f13_profit, color=BLUE, lw=1.3)
base_style(ax)
ax.set_ylim(-1000, 2500)
yticks_fmt(ax, list(range(-1000, 2501, 500)))
set_date_ticks(ax, pd.date_range('2022-03-01', '2024-05-01', freq='2MS'), '%Y-%m')
leg_line(124, 3317, BLUE, '精炼锌企业生产利润')

ax = date_axis((401, 3342, 636, 3527), '2022-03-07', '2024-05-17')
d = pd.date_range('2022-03-07', '2024-05-17', periods=len(f14_import))
ax.fill_between(d, 0, f14_import, color=BLUE, lw=0, zorder=2)
ax.axhline(0, color='#5B8DB8', lw=1.0, zorder=3)
base_style(ax)
ax.set_ylim(-7000, 3000)
yticks_fmt(ax, list(range(-7000, 3001, 1000)), comma=True)
set_date_ticks(ax, pd.to_datetime(['2022-03-07', '2023-03-07', '2024-03-07']), '%Y/%-m/%-d', rotation=0)
ax.tick_params(axis='x', labelsize=7, pad=5)
ax2 = ax.twinx()
ax2.plot(pd.date_range('2022-03-07', '2024-05-17', periods=len(f14_ratio)), f14_ratio, color=GREY, lw=1.4)
for s in ax2.spines.values():
    s.set_visible(False)
ax2.set_ylim(0, 10)
ax2.set_yticks(range(0, 11))
ax2.tick_params(length=0, labelsize=6.5, colors=TICK, pad=8)
bg.add_patch(Rectangle((412, 3308), 27, 6, facecolor=BLUE, edgecolor='none'))
bg.text(441, 3311, '精炼锌进口盈亏', fontsize=7, va='center', ha='left', color='#404040')
leg_line(532, 3311, GREY, '锌沪伦比值')
rule(3562)
source(4, 3574)
source(348, 3574)

# row 8
small_title(19, 3636, '图 15：上期所锌库存仓单')
small_title(355, 3636, '图 16：LME 锌库存仓单')
rule(3647)
seasonal((67, 3663, 315, 3841), [f15_2020, f15_2021, f15_2022, f15_2023, f15_2024], (0, 140000), 20000,
         368, 30.5, [0, 61, 122, 183, 244, 305], LBL_B)
season_legend([43, 140, 236], 3873, 3887)
seasonal((405, 3666, 630, 3837), [f16_2020, f16_2021, f16_2022, f16_2023, f16_2024], (0, 350000), 50000,
         360, 30, [0, 73, 146, 219, 292], LBL_C)
season_legend([379, 469, 560], 3868, 3884)
rule(3899)
source(4, 3910)
source(348, 3910)

plt.savefig('out.png', dpi=100, facecolor='white')
plt.close()
